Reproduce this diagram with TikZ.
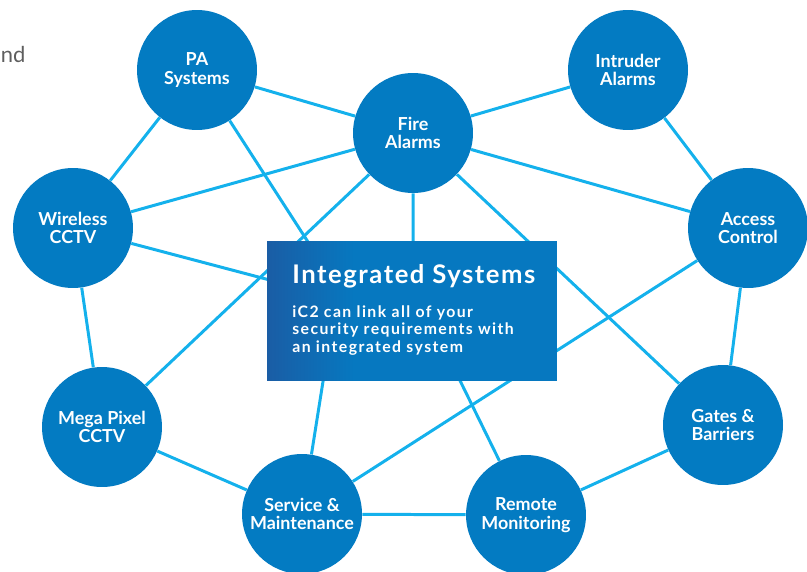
\documentclass[tikz,border=0pt]{standalone}
\usepackage{fontspec}
\setmainfont{Lato}
\usetikzlibrary{backgrounds}

\definecolor{nodeblue}{HTML}{037BC2}
\definecolor{linkblue}{HTML}{14B1EC}
\definecolor{boxdark}{HTML}{1A5DA5}
\definecolor{boxblue}{HTML}{0678C0}
\definecolor{greytext}{HTML}{5E5E5E}

\pgfdeclarehorizontalshading{infoshade}{100bp}{color(0bp)=(boxdark); color(25bp)=(boxdark);
    color(40bp)=(boxblue); color(100bp)=(boxblue)}

\begin{document}
\begin{tikzpicture}[
    x=0.02cm, y=-0.02cm,
    service/.style={circle, fill=nodeblue, minimum size=2.4cm, inner sep=0pt,
        align=center, text=white, font=\fontsize{10.2}{10.4}\selectfont\bfseries},
    link/.style={draw=linkblue, line width=1.7pt},
    infobox/.style={rectangle, minimum width=5.8cm, minimum height=2.8cm, shading=infoshade},
    infotitle/.style={text=white, inner sep=0pt,
        font=\fontsize{14.6}{17}\selectfont\bfseries\addfontfeatures{LetterSpace=6}},
    infotext/.style={text=white, inner sep=0pt, align=left,
        font=\fontsize{9}{10}\selectfont\bfseries\addfontfeatures{LetterSpace=9}}
]
        \useasboundingbox (0,0) rectangle (807,571);

        \node[text=greytext, inner sep=0pt, anchor=base west, font=\fontsize{12.5}{14}\selectfont] (cut) at (0.5,63) {nd};

        \node[service] (pa) at (197,70) {PA\\Systems};
        \node[service] (fire) at (413,133) {Fire\\Alarms};
        \node[service] (intruder) at (628,70) {Intruder\\Alarms};
        \node[service] (wireless) at (73,228) {Wireless\\CCTV};
        \node[service] (access) at (748,228) {Access\\Control};
        \node[service] (mega) at (102,427) {Mega Pixel\\CCTV};
        \node[service] (gates) at (723,425) {Gates \&\\Barriers};
        \node[service] (maint) at (302,514) {Service \&\\Maintenance};
        \node[service] (remote) at (526,515) {Remote\\Monitoring};

        \node[infobox] (integrated) at (412,311) {};
        \node[infotitle, anchor=base west] (title) at (292,283) {Integrated Systems};
        \node[infotext, anchor=north west] (blurb) at (292,305)
            {iC2 can link all of your\\security requirements with\\an integrated system};

        \coordinate (pabend) at (330,276);
        \coordinate (remotebend) at (445,350);
        \coordinate (firebend) at (413,300);
        \coordinate (maintbend) at (328,350);
        \coordinate (wirelessend) at (300,288);

        \begin{scope}[on background layer]
            \foreach \a/\b in {pa/fire, pa/wireless, fire/intruder, fire/wireless,
                fire/access, fire/mega, fire/gates, intruder/access, wireless/mega,
                access/gates, access/maint, mega/maint, maint/remote, remote/gates} {
                \draw[link] (\a) -- (\b);
            }
            \draw[link] (pa) -- (pabend) -- (remotebend) -- (remote);
            \draw[link] (fire) -- (firebend) -- (maintbend) -- (maint);
            \draw[link] (wireless) -- (wirelessend);
        \end{scope}
    \end{tikzpicture}
\end{document}
